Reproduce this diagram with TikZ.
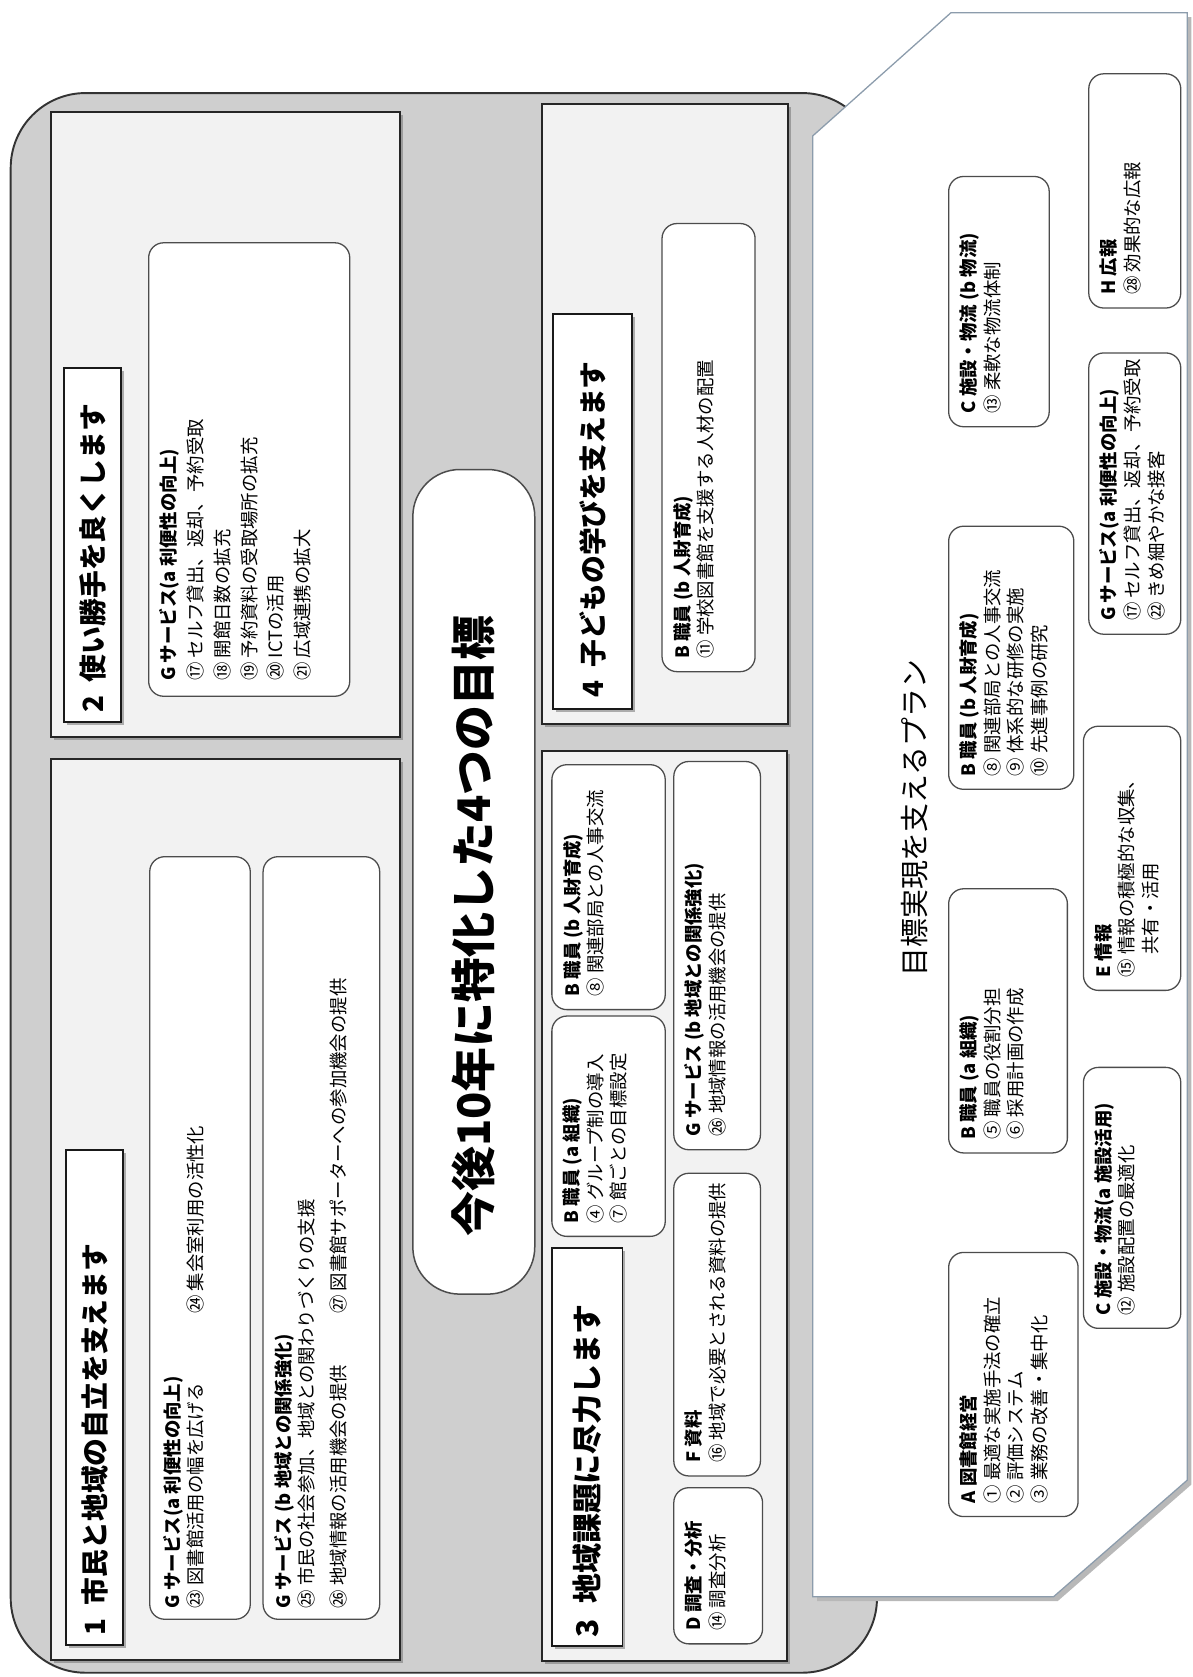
\documentclass[tikz,border=0pt]{standalone}
\usepackage{fontspec}
\setmainfont{Noto Sans CJK JP}
\usetikzlibrary{shadows}
\newcommand\mkbox[6]{\node[#1, minimum width={((#5)-(#3))*0.5pt}, minimum height={((#6)-(#4))*0.5pt}] (#2) at ({((#3)+(#5))/2},{((#4)+(#6))/2}) {};}
\begin{document}
\begin{tikzpicture}[x=0.5pt,y=-0.5pt,
  shadowed/.style={drop shadow={shadow xshift=1.3pt, shadow yshift=-1.3pt, fill=black!55, opacity=0.55}},
  panel/.style={draw=black!85, line width=0.9pt, fill=black!5, inner sep=0pt, outer sep=0pt, shadowed},
  lblbox/.style={draw=black!90, line width=0.9pt, fill=white, inner sep=0pt, outer sep=0pt, shadowed},
  rbox/.style={draw=black!70, line width=0.6pt, fill=white, rounded corners=7pt, inner sep=0pt, outer sep=0pt},
  pill/.style={draw=black!70, line width=0.7pt, fill=white, rounded corners=22pt, inner sep=0pt, outer sep=0pt},
  btxt/.style={rotate=90, anchor=north west, align=left, inner sep=0pt, font=\fontsize{8.6}{11}\selectfont},
  ltxt/.style={rotate=90, anchor=west, inner sep=0pt, font=\fontsize{13}{15}\selectfont\bfseries},
  planline/.style={draw={rgb,255:red,140;green,156;blue,172}, line width=0.6pt}
]
\useasboundingbox (0,0) rectangle (1115,1568);
% big gray panel
\draw[draw=black!80, line width=0.9pt, fill=black!19, rounded corners=35pt] (10,87) rectangle (820,1564);
% four goal panels
\mkbox{panel}{p2}{48}{105}{374}{689}
\mkbox{panel}{p1}{48}{710}{374}{1552}
\mkbox{panel}{p4}{507}{97}{737}{677}
\mkbox{panel}{p3}{507}{702}{736}{1553}
% labels
\mkbox{lblbox}{l2}{60}{344}{113}{675}
\mkbox{lblbox}{l1}{62}{1075}{115}{1538}
\mkbox{lblbox}{l4}{517}{294}{591}{663}
\mkbox{lblbox}{l3}{516}{1167}{582}{1539}
\node[ltxt] (t_l2) at ([yshift=4pt]l2.south) {2\hspace{0.5em}使い勝手を良くします};
\node[ltxt] (t_l1) at ([yshift=4pt]l1.south) {1\hspace{0.5em}市民と地域の自立を支えます};
\node[ltxt] (t_l4) at ([yshift=5pt]l4.south) {4\hspace{0.5em}子どもの学びを支えます};
\node[ltxt, font=\fontsize{14}{16}\selectfont\bfseries] (t_l3) at ([yshift=4pt]l3.south) {3\hspace{0.5em}地域課題に尽力します};
% center pill
\mkbox{pill}{ctr}{386}{439}{500}{1210}
\node[rotate=90, inner sep=0pt, font=\fontsize{21}{24}\selectfont\bfseries] (t_ctr) at (443,866) {今後10年に特化した4つの目標};
% panel 2 box
\mkbox{rbox}{g2}{139}{227}{327}{651}
\node[btxt, font=\fontsize{8.6}{12.5}\selectfont] (t_g2) at ([xshift=5pt,yshift=7pt]g2.south west) {\textbf{G サービス(a 利便性の向上)}\\⑰ セルフ貸出、返却、予約受取\\⑱ 開館日数の拡充\\⑲ 予約資料の受取場所の拡充\\⑳ ICTの活用\\㉑ 広域連携の拡大};
% panel 1 boxes
\mkbox{rbox}{g1a}{140}{801}{234}{1514}
\node[btxt] (t_g1a) at ([xshift=6pt,yshift=5pt]g1a.south west) {\textbf{G サービス(a 利便性の向上)}\\\makebox[16em][l]{㉓ 図書館活用の幅を広げる}㉔ 集会室利用の活性化};
\mkbox{rbox}{g1b}{246}{801}{355}{1514}
\node[btxt] (t_g1b) at ([xshift=5pt,yshift=5pt]g1b.south west) {\textbf{G サービス (b 地域との関係強化)}\\㉕ 市民の社会参加、地域との関わりづくりの支援\\[4pt]\makebox[16em][l]{㉖ 地域情報の活用機会の提供}㉗ 図書館サポーターへの参加機会の提供};
% panel 4 box
\mkbox{rbox}{b4}{619}{209}{706}{628}
\node[btxt] (t_b4) at ([xshift=5pt,yshift=6pt]b4.south west) {\textbf{B 職員 (b 人財育成)}\\⑪ 学校図書館を支援する人材の配置};
% panel 3 boxes
\mkbox{rbox}{b3b}{516}{715}{622}{944}
\node[btxt] (t_b3b) at ([xshift=5pt,yshift=6pt]b3b.south west) {\textbf{B 職員 (b 人財育成)}\\⑧ 関連部局との人事交流};
\mkbox{rbox}{b3a}{516}{950}{622}{1156}
\node[btxt] (t_b3a) at ([xshift=5pt,yshift=6pt]b3a.south west) {\textbf{B 職員 (a 組織)}\\④ グループ制の導入\\⑦ 館ごとの目標設定};
\mkbox{rbox}{g3}{630}{712}{711}{1075}
\node[btxt] (t_g3) at ([xshift=5pt,yshift=6pt]g3.south west) {\textbf{G サービス (b 地域との関係強化)}\\㉖ 地域情報の活用機会の提供};
\mkbox{rbox}{f3}{630}{1097}{711}{1380}
\node[btxt] (t_f3) at ([xshift=5pt,yshift=6pt]f3.south west) {\textbf{F 資料}\\⑯ 地域で必要とされる資料の提供};
\mkbox{rbox}{d3}{630}{1391}{713}{1537}
\node[btxt] (t_d3) at ([xshift=5pt,yshift=6pt]d3.south west) {\textbf{D 調査・分析}\\⑭ 調査分析};
% plan shape
\fill[black!28] (764,131) -- (893,16) -- (1114,16) -- (1114,1388) -- (989,1497) -- (764,1497) -- cycle;
\draw[planline, fill=white] (760,127) -- (889,12) -- (1110,12) -- (1110,1384) -- (985,1493) -- (760,1493) -- cycle;
\node[rotate=90, inner sep=0pt, font=\fontsize{13.5}{15}\selectfont] (t_plan) at (855,765) {目標実現を支えるプラン};
% plan boxes
\mkbox{rbox}{pcb}{887}{165}{981}{399}
\node[btxt] (t_pcb) at ([xshift=5pt,yshift=6pt]pcb.south west) {\textbf{C 施設・物流 (b 物流)}\\⑬ 柔軟な物流体制};
\mkbox{rbox}{pbb}{887}{492}{1004}{738}
\node[btxt] (t_pbb) at ([xshift=5pt,yshift=6pt]pbb.south west) {\textbf{B 職員 (b 人財育成)}\\⑧ 関連部局との人事交流\\⑨ 体系的な研修の実施\\⑩ 先進事例の研究};
\mkbox{rbox}{pba}{887}{831}{998}{1078}
\node[btxt] (t_pba) at ([xshift=5pt,yshift=6pt]pba.south west) {\textbf{B 職員 (a 組織)}\\⑤ 職員の役割分担\\⑥ 採用計画の作成};
\mkbox{rbox}{pa}{887}{1171}{1008}{1418}
\node[btxt] (t_pa) at ([xshift=5pt,yshift=6pt]pa.south west) {\textbf{A 図書館経営}\\① 最適な実施手法の確立\\② 評価システム\\③ 業務の改善・集中化};
\mkbox{rbox}{ph}{1018}{69}{1104}{288}
\node[btxt] (t_ph) at ([xshift=5pt,yshift=6pt]ph.south west) {\textbf{H 広報}\\㉘ 効果的な広報};
\mkbox{rbox}{pg}{1018}{330}{1104}{593}
\node[btxt] (t_pg) at ([xshift=5pt,yshift=6pt]pg.south west) {\textbf{G サービス(a 利便性の向上)}\\⑰ セルフ貸出、返却、予約受取\\㉒ きめ細やかな接客};
\mkbox{rbox}{pe}{1013}{679}{1104}{926}
\node[btxt] (t_pe) at ([xshift=5pt,yshift=6pt]pe.south west) {\textbf{E 情報}\\⑮ 情報の積極的な収集、\\\phantom{⑮ }共有・活用};
\mkbox{rbox}{pca}{1013}{998}{1104}{1242}
\node[btxt] (t_pca) at ([xshift=5pt,yshift=6pt]pca.south west) {\textbf{C 施設・物流(a 施設活用)}\\⑫ 施設配置の最適化};
\end{tikzpicture}
\end{document}
